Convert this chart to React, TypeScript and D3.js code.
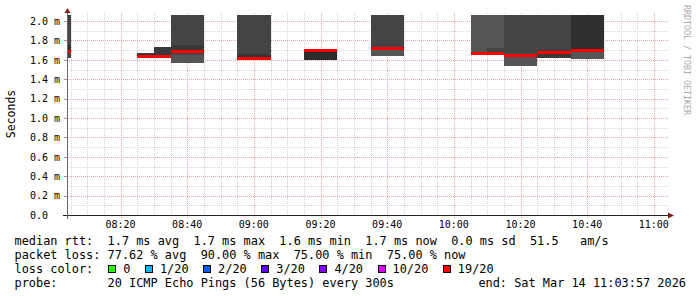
import React from "react";
import * as d3 from "d3";

// ---- data ----
const slotMinutes = [0, 25, 30, 35, 40, 55, 60, 75, 80, 95, 100, 125, 130, 135, 140, 145, 150, 155, 160]; // slot start, minutes after 08:00
const smokeLow = [1.62, 1.62, 1.62, 1.567, 1.567, 1.61, 1.61, 1.595, 1.595, 1.64, 1.64, 1.65, 1.65, 1.535, 1.535, 1.62, 1.62, 1.61, 1.61];
const smokeHigh = [2.2, 1.67, 1.73, 2.2, 2.2, 2.2, 2.2, 1.71, 1.71, 2.2, 2.2, 2.2, 2.2, 2.2, 2.2, 2.2, 2.2, 2.2, 2.2];
const smokeShade = ["#444", "#3a3a3a", "#3a3a3a", "#444", "#444", "#444", "#444", "#2b2b2b", "#2b2b2b", "#444", "#444", "#555", "#555", "#444", "#444", "#444", "#444", "#2f2f2f", "#2f2f2f"];
const bandLow = [1.70, 0, 0, 1.567, 1.567, 1.626, 1.626, 0, 0, 1.64, 1.64, 1.65, 1.65, 1.535, 1.535, 1.62, 1.62, 1.61, 1.61];
const bandHigh = [1.75, 0, 0, 1.65, 1.65, 1.66, 1.66, 0, 0, 1.70, 1.70, 1.68, 1.72, 1.626, 1.626, 1.70, 1.70, 1.69, 1.69];
const bandShade = ["#333", "#333", "#333", "#555", "#555", "#363636", "#363636", "#333", "#333", "#555", "#555", "#3a3a3a", "#444", "#555", "#555", "#3a3a3a", "#3a3a3a", "#555", "#555"];
const band2Low = [0, 0, 0, 1.70, 1.70, 0, 0, 0, 0, 0, 0, 0, 0, 0, 0, 0, 0, 0, 0];
const band2High = [0, 0, 0, 1.75, 1.75, 0, 0, 0, 0, 0, 0, 0, 0, 0, 0, 0, 0, 0, 0];
const medianRtt = [1.69, 1.636, 1.636, 1.69, 1.69, 1.615, 1.615, 1.70, 1.70, 1.713, 1.713, 1.667, 1.66, 1.644, 1.644, 1.675, 1.675, 1.70, 1.70];

const yTicks = [0, 0.2, 0.4, 0.6, 0.8, 1.0, 1.2, 1.4, 1.6, 1.8, 2.0];
const lossLabels = ["0", "1/20", "2/20", "3/20", "4/20", "10/20", "19/20"];
const lossColors = ["#26ff00", "#00b8ff", "#0059ff", "#5e00ff", "#7e00ff", "#dd00ff", "#ff0000"];
const legendRtt = "median rtt:  1.7 ms avg  1.7 ms max  1.6 ms min  1.7 ms now  0.0 ms sd  51.5   am/s";
const legendLoss = "packet loss: 77.62 % avg  90.00 % max  75.00 % min  75.00 % now";
const legendProbe = "probe:       20 ICMP Echo Pings (56 Bytes) every 300s";
const legendEnd = "end: Sat Mar 14 11:03:57 2026";

const startTime = new Date(2026, 2, 14, 8, 3, 57);
const endTime = new Date(2026, 2, 14, 11, 3, 57);
const slotBase = new Date(2026, 2, 14, 8, 0, 0);

const MONO = "'DejaVu Sans Mono', monospace";

export default function App() {
  const L = 67, R = 667, T = 15, B = 215;
  const x = d3.scaleTime().domain([startTime, endTime]).range([L, R]);
  const y = d3.scaleLinear().domain([0, 2.062]).range([B, T]);
  const minorX = d3.timeMinute.every(5)!.range(startTime, endTime);
  const majorX = d3.timeMinute.every(20)!.range(startTime, endTime);
  const fmt = d3.timeFormat("%H:%M");
  const minorY = d3.range(1, 21).map((i) => i / 10);
  const charW = 7.16;

  const slotX = (i: number) => x(new Date(slotBase.getTime() + slotMinutes[i] * 60000));
  const slotX2 = (i: number) => x(new Date(slotBase.getTime() + (slotMinutes[i] + 5) * 60000));

  const lossPos: { bx: number; tx: number }[] = [];
  let bx = 108.3;
  lossLabels.forEach((lab) => {
    const tx = bx + 15;
    lossPos.push({ bx, tx });
    bx = tx + lab.length * charW + 14.5;
  });

  return (
    <svg width={697} height={297} style={{ position: "absolute", left: 0, top: 0, background: "#fff" }}>
      <defs>
        <clipPath id="plot">
          <rect x={L} y={T} width={R - L} height={B - T} />
        </clipPath>
      </defs>
      <rect x={0} y={0} width={697} height={297} fill="#fff" />
      {/* grid */}
      <g shapeRendering="crispEdges">
        {minorY.filter((v) => Math.round(v * 10) % 2 !== 0).map((v) => (
          <line key={"hy" + v} x1={L} x2={R + 2} y1={Math.round(y(v)) + 0.5} y2={Math.round(y(v)) + 0.5} stroke="#d4d4d4" strokeDasharray="1,1" />
        ))}
        {minorX.filter((t) => t.getMinutes() % 20 !== 0).map((t) => (
          <line key={"vx" + t.getTime()} x1={Math.round(x(t)) + 0.5} x2={Math.round(x(t)) + 0.5} y1={T - 2} y2={B} stroke="#d4d4d4" strokeDasharray="1,1" />
        ))}
        {yTicks.filter((v) => v > 0).map((v) => (
          <line key={"my" + v} x1={L - 2} x2={R + 2} y1={Math.round(y(v)) + 0.5} y2={Math.round(y(v)) + 0.5} stroke="#e4a8a8" strokeDasharray="1,1" />
        ))}
        {majorX.map((t) => (
          <line key={"mx" + t.getTime()} x1={Math.round(x(t)) + 0.5} x2={Math.round(x(t)) + 0.5} y1={T - 2} y2={B + 3} stroke="#e4a8a8" strokeDasharray="1,1" />
        ))}
      </g>
      {/* smoke */}
      <g clipPath="url(#plot)" shapeRendering="crispEdges">
        {slotMinutes.map((_, i) => (
          <g key={"s" + i}>
            <rect x={slotX(i)} width={slotX2(i) - slotX(i)} y={y(smokeHigh[i])} height={y(smokeLow[i]) - y(smokeHigh[i])} fill={smokeShade[i]} />
            {bandHigh[i] > bandLow[i] && (
              <rect x={slotX(i)} width={slotX2(i) - slotX(i)} y={y(bandHigh[i])} height={y(bandLow[i]) - y(bandHigh[i])} fill={bandShade[i]} />
            )}
            {band2High[i] > band2Low[i] && (
              <rect x={slotX(i)} width={slotX2(i) - slotX(i)} y={y(band2High[i])} height={y(band2Low[i]) - y(band2High[i])} fill="#383838" />
            )}
            <rect x={slotX(i)} width={slotX2(i) - slotX(i)} y={y(medianRtt[i]) - 1.5} height={3} fill="#ff0000" />
          </g>
        ))}
      </g>
      {/* axes */}
      <g shapeRendering="crispEdges">
        <line x1={L - 4} x2={R + 4} y1={B + 0.5} y2={B + 0.5} stroke="#222" />
        <line x1={L + 0.5} x2={L + 0.5} y1={B + 4} y2={T - 3} stroke="#666" />
        {yTicks.filter((v) => v > 0).map((v) => (
          <line key={"ty" + v} x1={L - 3} x2={L} y1={Math.round(y(v)) + 0.5} y2={Math.round(y(v)) + 0.5} stroke="#c88" />
        ))}
      </g>
      <path d={`M${R + 7},${B + 0.5} L${R + 1},${B - 2.5} L${R + 1},${B + 3.5} Z`} fill="#7f1f1f" />
      <path d={`M${L + 0.5},${T - 7} L${L - 2.5},${T - 2} L${L + 3.5},${T - 2} Z`} fill="#7f1f1f" />
      {/* y labels */}
      {yTicks.map((v) => (
        <text key={"yl" + v} x={30} y={y(v) + 3.7} fontFamily={MONO} fontSize={10} fill="#000" style={{ whiteSpace: "pre" }}>
          {v === 0 ? "0.0" : v.toFixed(1) + " m"}
        </text>
      ))}
      {/* x labels */}
      {majorX.map((t) => (
        <text key={"xl" + t.getTime()} x={x(t)} y={228} textAnchor="middle" fontFamily={MONO} fontSize={10} fill="#000">
          {fmt(t)}
        </text>
      ))}
      <text transform="translate(14.5,114) rotate(-90)" textAnchor="middle" fontFamily={MONO} fontSize={11.5} fill="#000">
        Seconds
      </text>
      <text transform="translate(683.5,5) rotate(90)" fontFamily={MONO} fontSize={8.3} fill="#aaa">
        RRDTOOL / TOBI OETIKER
      </text>
      {/* legend */}
      <g fontFamily={MONO} fontSize={11.9} fill="#000" style={{ whiteSpace: "pre" }}>
        <text x={14.5} y={245} xmlSpace="preserve">{legendRtt}</text>
        <text x={14.5} y={259} xmlSpace="preserve">{legendLoss}</text>
        <text x={14.5} y={273} xmlSpace="preserve">loss color:</text>
        {lossLabels.map((lab, i) => (
          <g key={"lc" + i}>
            <rect x={lossPos[i].bx + 0.5} y={265.5} width={7} height={7} fill={lossColors[i]} stroke="#000" shapeRendering="crispEdges" />
            <text x={lossPos[i].tx} y={273}>{lab}</text>
          </g>
        ))}
        <text x={14.5} y={287} xmlSpace="preserve">{legendProbe}</text>
        <text x={686} y={287} textAnchor="end">{legendEnd}</text>
      </g>
    </svg>
  );
}
